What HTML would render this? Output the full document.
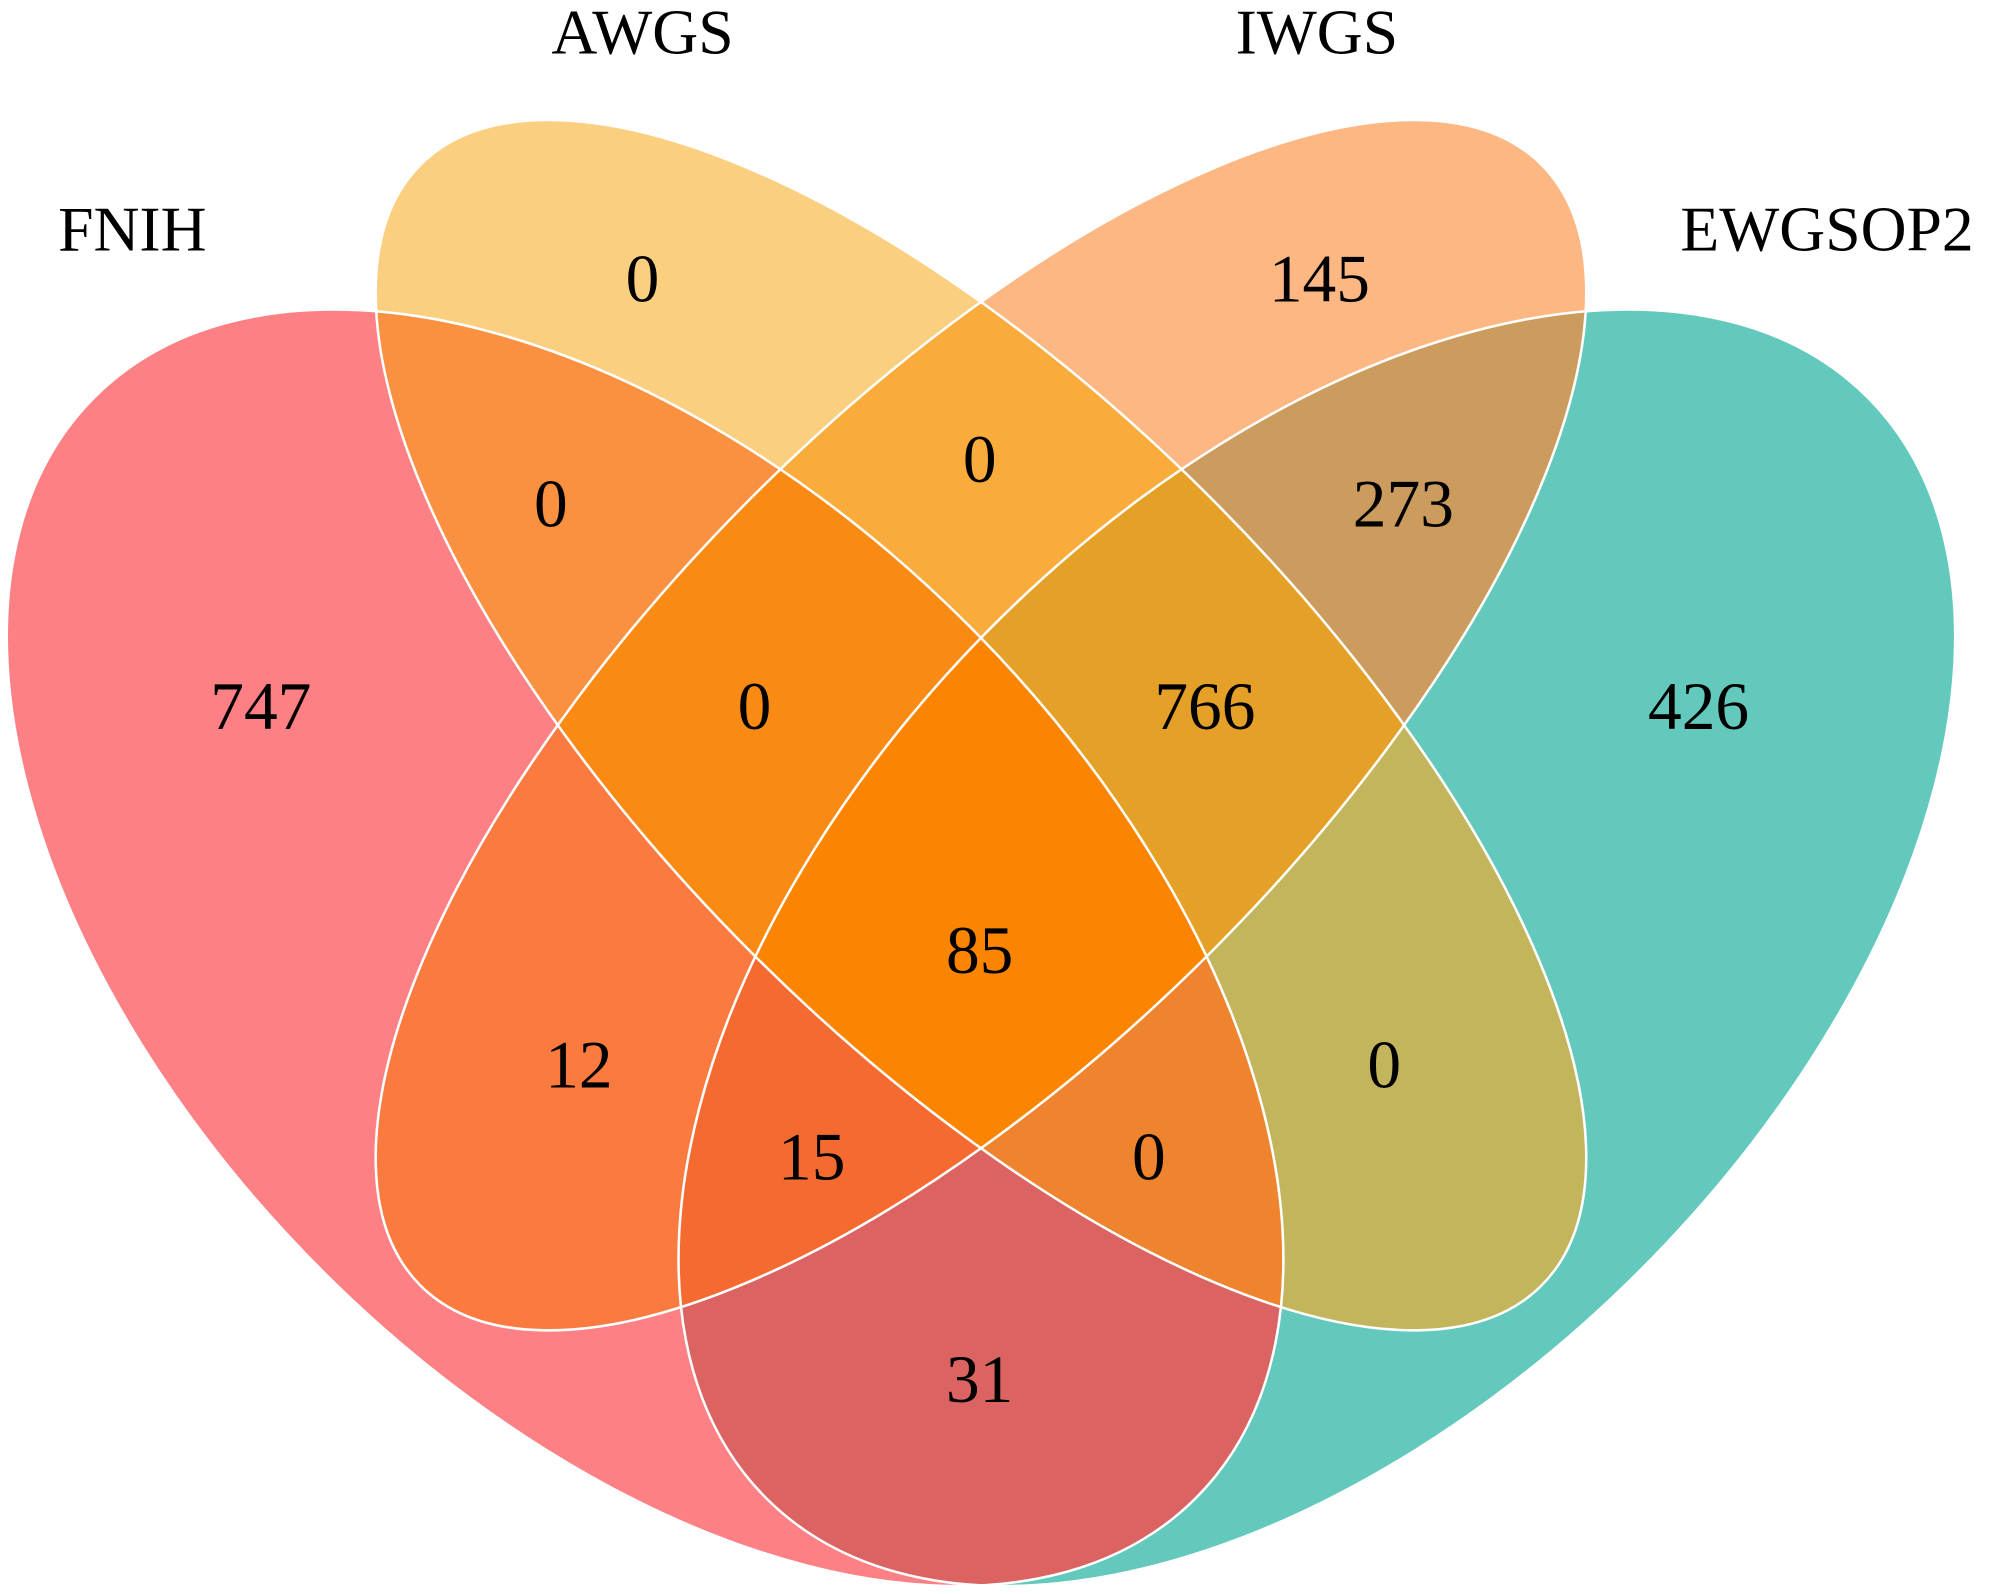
<!DOCTYPE html>
<html><head><meta charset="utf-8"><style>html,body{margin:0;padding:0;background:#fff;overflow:hidden;width:1995px;height:1594px}svg{display:block;overflow:hidden}</style></head>
<body>
<svg width="1995" height="1594" viewBox="0 0 1568 1253" preserveAspectRatio="none" xmlns="http://www.w3.org/2000/svg">
<defs>
<clipPath id="cF"><ellipse cx="507" cy="745" rx="612" ry="359" transform="rotate(45 507 745)"/></clipPath>
<clipPath id="cE"><ellipse cx="1035" cy="745" rx="612" ry="359" transform="rotate(-45 1035 745)"/></clipPath>
<clipPath id="cA"><ellipse cx="771" cy="570" rx="623" ry="254" transform="rotate(45 771 570)"/></clipPath>
<clipPath id="cI"><ellipse cx="771" cy="570" rx="623" ry="254" transform="rotate(-45 771 570)"/></clipPath>
</defs>
<rect width="1568" height="1253" fill="#fff"/>
<rect width="1568" height="1253" fill="#FC8084" clip-path="url(#cF)"/>
<rect width="1568" height="1253" fill="#62C9BC" clip-path="url(#cE)"/>
<rect width="1568" height="1253" fill="#FBCF80" clip-path="url(#cA)"/>
<rect width="1568" height="1253" fill="#FCB783" clip-path="url(#cI)"/>
<g clip-path="url(#cF)"><rect width="1568" height="1253" fill="#F99140" clip-path="url(#cA)"/></g>
<g clip-path="url(#cF)"><rect width="1568" height="1253" fill="#FA7A40" clip-path="url(#cI)"/></g>
<g clip-path="url(#cF)"><rect width="1568" height="1253" fill="#DB6462" clip-path="url(#cE)"/></g>
<g clip-path="url(#cA)"><rect width="1568" height="1253" fill="#F9AC3C" clip-path="url(#cI)"/></g>
<g clip-path="url(#cA)"><rect width="1568" height="1253" fill="#C2B55C" clip-path="url(#cE)"/></g>
<g clip-path="url(#cI)"><rect width="1568" height="1253" fill="#CB9C5E" clip-path="url(#cE)"/></g>
<g clip-path="url(#cF)"><g clip-path="url(#cA)"><rect width="1568" height="1253" fill="#F98A14" clip-path="url(#cI)"/></g></g>
<g clip-path="url(#cA)"><g clip-path="url(#cI)"><rect width="1568" height="1253" fill="#E5A027" clip-path="url(#cE)"/></g></g>
<g clip-path="url(#cF)"><g clip-path="url(#cI)"><rect width="1568" height="1253" fill="#F56A30" clip-path="url(#cE)"/></g></g>
<g clip-path="url(#cF)"><g clip-path="url(#cA)"><rect width="1568" height="1253" fill="#EE842E" clip-path="url(#cE)"/></g></g>
<g clip-path="url(#cF)"><g clip-path="url(#cA)"><g clip-path="url(#cI)"><rect width="1568" height="1253" fill="#FB8401" clip-path="url(#cE)"/></g></g></g>
<g fill="none" stroke="#fff" stroke-width="2">
<ellipse cx="507" cy="745" rx="612" ry="359" transform="rotate(45 507 745)"/>
<ellipse cx="1035" cy="745" rx="612" ry="359" transform="rotate(-45 1035 745)"/>
<ellipse cx="771" cy="570" rx="623" ry="254" transform="rotate(45 771 570)"/>
<ellipse cx="771" cy="570" rx="623" ry="254" transform="rotate(-45 771 570)"/>
</g>
<g font-family="Liberation Serif, serif" font-size="50" fill="#000" text-anchor="middle">
<text x="505" y="42">AWGS</text>
<text x="1035" y="42">IWGS</text>
<text x="104" y="197">FNIH</text>
<text x="1436" y="197">EWGSOP2</text>
</g>
<g font-family="Liberation Serif, serif" font-size="53" fill="#000" text-anchor="middle">
<text x="505" y="237">0</text>
<text x="1037" y="237">145</text>
<text x="433" y="414">0</text>
<text x="770" y="379">0</text>
<text x="1103" y="414">273</text>
<text x="205" y="573">747</text>
<text x="593" y="573">0</text>
<text x="947" y="573">766</text>
<text x="1335" y="573">426</text>
<text x="770" y="765">85</text>
<text x="455" y="855">12</text>
<text x="1088" y="855">0</text>
<text x="638" y="927">15</text>
<text x="903" y="927">0</text>
<text x="770" y="1102">31</text>
</g>
</svg>
</body></html>
